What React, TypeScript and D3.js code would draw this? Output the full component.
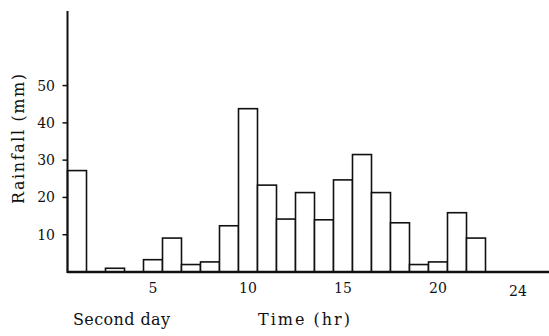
import React from "react";
import * as d3 from "d3";

// hourly rainfall, second day (hour ending)
const hours = [1, 2, 3, 4, 5, 6, 7, 8, 9, 10, 11, 12, 13, 14, 15, 16, 17, 18, 19, 20, 21, 22];
const rainfall = [27.2, 0, 1, 0, 3.3, 9.1, 2.0, 2.7, 12.4, 43.8, 23.3, 14.2, 21.3, 14.0, 24.7, 31.5, 21.3, 13.2, 2.0, 2.7, 15.9, 9.1];
const xTickLabels = [5, 10, 15, 20, 24];
const yTickValues = [10, 20, 30, 40, 50];

const W = 549;
const H = 336;
const FONT = "'DejaVu Serif', 'Liberation Serif', 'Times New Roman', serif";

const App = () => {
  const x0 = 67.5;
  const step = 19;
  const x = d3
    .scaleBand<number>()
    .domain(d3.range(1, 26))
    .range([x0, x0 + step * 25])
    .padding(0);

  const y = d3.scaleLinear().domain([0, 70]).range([272, 11]);

  const textStyle = { fontFamily: FONT };

  return (
    <svg
      width={W}
      height={H}
      style={{ position: "absolute", left: 0, top: 0, background: "#fff" }}
    >
      {/* bars */}
      {hours.map((h, i) =>
        rainfall[i] > 0 ? (
          <rect
            key={h}
            x={x(h)}
            y={y(rainfall[i])}
            width={x.bandwidth()}
            height={y(0) - y(rainfall[i])}
            fill="#fff"
            stroke="#111"
            strokeWidth={1.6}
          />
        ) : null
      )}

      {/* axes */}
      <line x1={x0} x2={W} y1={y(0)} y2={y(0)} stroke="#111" strokeWidth={2.5} />
      <line x1={x0} x2={x0} y1={y(70)} y2={y(0) + 1} stroke="#111" strokeWidth={2} />

      {yTickValues.map((v) => (
        <g key={v} transform={`translate(0,${y(v)})`}>
          <line x1={x0 - 5} x2={x0} stroke="#111" strokeWidth={1.5} />
          <text x={55} dy="0.36em" textAnchor="end" fontSize={14} fill="#111" style={textStyle}>
            {v}
          </text>
        </g>
      ))}

      {xTickLabels.map((v) => (
        <text
          key={v}
          x={(x(v) ?? 0) + x.bandwidth() / 2 + (v === 24 ? 4 : 0)}
          y={v === 24 ? 296 : 293}
          textAnchor="middle"
          fontSize={14}
          fill="#111"
          style={textStyle}
        >
          {v}
        </text>
      ))}

      <text
        transform="translate(24,139) rotate(-90)"
        textAnchor="middle"
        fontSize={16}
        textLength={130}
        lengthAdjust="spacing"
        fill="#111"
        style={textStyle}
      >
        Rainfall (mm)
      </text>

      <text x={73} y={325} fontSize={16} textLength={97} lengthAdjust="spacing" fill="#111" style={textStyle}>
        Second day
      </text>
      <text x={258} y={325} fontSize={16} textLength={92} lengthAdjust="spacing" fill="#111" style={textStyle}>
        Time (hr)
      </text>
    </svg>
  );
};

export default App;
